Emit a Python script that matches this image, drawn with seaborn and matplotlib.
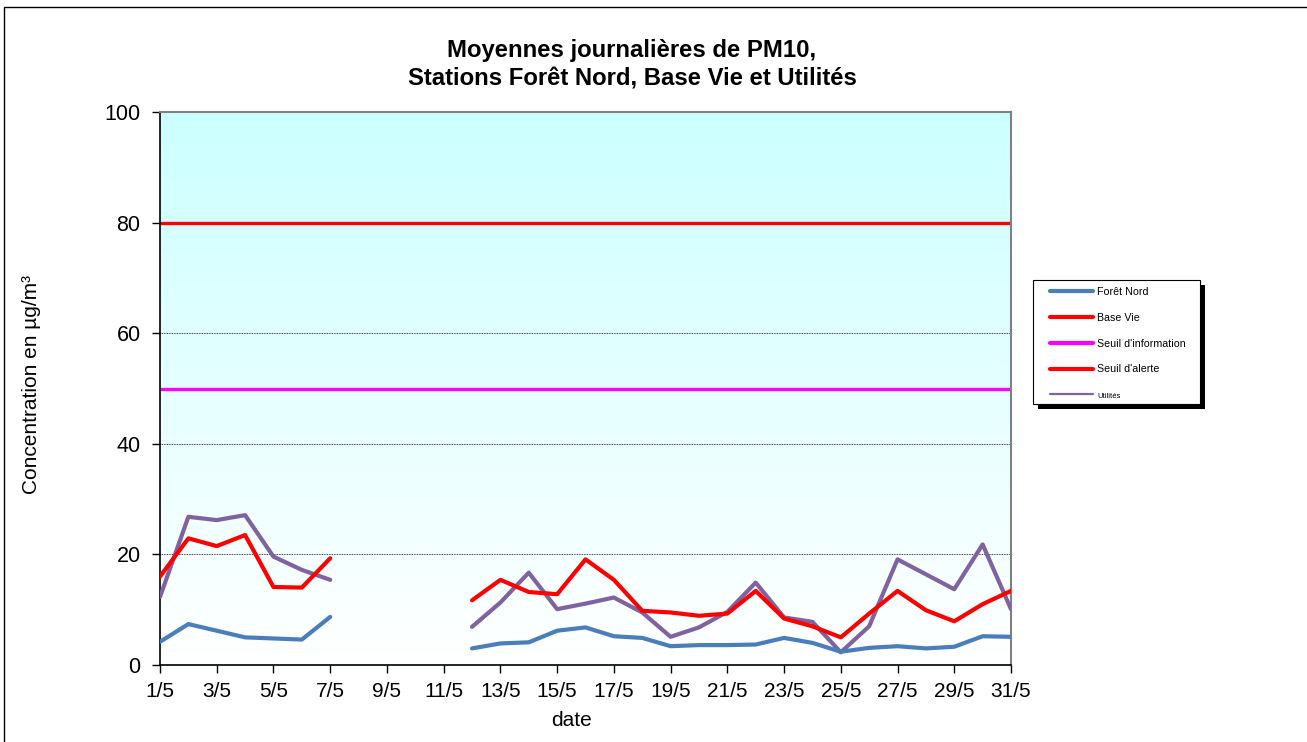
import numpy as np
import pandas as pd
import matplotlib
matplotlib.use("Agg")
import matplotlib.pyplot as plt
from matplotlib.colors import LinearSegmentedColormap
from matplotlib.lines import Line2D
from matplotlib.patches import Rectangle
import seaborn as sns

# days of May; no measurements from 8/5 to 11/5
days = list(range(1, 32))
nan = np.nan
foret_nord = [4.2, 7.4, 6.2, 5.0, 4.8, 4.6, 8.7, nan, nan, nan, nan,
              3.0, 3.9, 4.1, 6.2, 6.8, 5.2, 4.9, 3.4, 3.6, 3.6,
              3.7, 4.9, 4.0, 2.4, 3.1, 3.4, 3.0, 3.3, 5.2, 5.1]
base_vie = [16.0, 22.9, 21.5, 23.5, 14.1, 14.0, 19.3, nan, nan, nan, nan,
            11.7, 15.4, 13.2, 12.8, 19.1, 15.4, 9.8, 9.5, 8.9, 9.3,
            13.4, 8.4, 7.0, 5.0, 9.3, 13.4, 9.9, 7.9, 11.0, 13.4]
utilites = [12.3, 26.8, 26.2, 27.1, 19.6, 17.2, 15.4, nan, nan, nan, nan,
            6.9, 11.3, 16.7, 10.1, 11.1, 12.2, 9.5, 5.1, 6.8, 9.6,
            14.9, 8.6, 7.8, 2.3, 7.0, 19.1, 16.4, 13.7, 21.8, 10.1]
seuil_information = 50
seuil_alerte = 80
tick_days = list(range(1, 32, 2))
tick_labels = [f"{d}/5" for d in tick_days]

colors = {"Forêt Nord": "#4A7EBB", "Base Vie": "#FF0000", "Utilités": "#7F62A1"}

rows = []
for name, vals in [("Forêt Nord", foret_nord), ("Base Vie", base_vie), ("Utilités", utilites)]:
    seg = 0
    for d, v in zip(days, vals):
        if np.isnan(v):
            seg = 1
            continue
        rows.append({"day": d, "value": v, "station": name, "segment": seg})
df = pd.DataFrame(rows)

sns.set_style("white")
plt.rcParams["font.family"] = ["Liberation Sans", "DejaVu Sans"]
for key in ["text.color", "axes.labelcolor", "xtick.color", "ytick.color"]:
    plt.rcParams[key] = "black"

W, H = 1307, 742
fig = plt.figure(figsize=(W / 100, H / 100), dpi=100)
ax = fig.add_axes([160 / W, 1 - 665 / H, (1011 - 160) / W, (665 - 112) / H])

# gradient background (white at bottom, light cyan at top)
cmap = LinearSegmentedColormap.from_list("bg", ["#FFFFFF", "#CCFFFF"])
grad = np.linspace(0, 1, 256).reshape(-1, 1)
ax.imshow(grad, cmap=cmap, aspect="auto", extent=[1, 31, 0, 100], origin="lower", zorder=0)

for y in [20, 40, 60]:
    ax.axhline(y, color="black", lw=0.6, ls=(0, (1, 1)), zorder=1)

ax.axhline(seuil_information, color="#FF00FF", lw=2.4, zorder=2)
ax.axhline(seuil_alerte, color="#FF0000", lw=2.4, zorder=2)

for name in ["Utilités", "Base Vie", "Forêt Nord"]:
    sub = df[df["station"] == name]
    sns.lineplot(data=sub, x="day", y="value", units="segment", estimator=None,
                 color=colors[name], lw=3.0, ax=ax, legend=False, zorder=3)

ax.set_xlim(1, 31)
ax.set_ylim(0, 100)
ax.set_xticks(tick_days)
ax.set_xticklabels(tick_labels, fontsize=15)
ax.set_yticks([0, 20, 40, 60, 80, 100])
ax.set_yticklabels(["0", "20", "40", "60", "80", "100"], fontsize=15.5)
ax.tick_params(axis="both", direction="out", length=6, width=1, color="black",
               bottom=True, left=True)
ax.tick_params(axis="y", pad=8)
ax.tick_params(axis="x", pad=6)
ax.set_xlabel("")
ax.set_ylabel("")
for side in ["left", "bottom"]:
    ax.spines[side].set_color("black")
    ax.spines[side].set_linewidth(1.2)
for side in ["top", "right"]:
    ax.spines[side].set_color("#808080")
    ax.spines[side].set_linewidth(1.5)

fig.text(572 / W, 1 - 720 / H, "date", ha="center", va="center", fontsize=15)
fig.text(32 / W, 1 - 384 / H, "Concentration en µg/m³", rotation=90,
         ha="center", va="center", fontsize=15)
fig.text(632 / W, 1 - 65 / H, "Moyennes journalières de PM10,\nStations Forêt Nord, Base Vie et Utilités",
         ha="center", va="center", fontsize=17.2, fontweight="bold", linespacing=1.3)

# legend box with black shadow
fig.patches.append(Rectangle((1038 / W, 1 - 409 / H), 167 / W, 124 / H,
                             transform=fig.transFigure, facecolor="black",
                             edgecolor="none", zorder=4))
fig.patches.append(Rectangle((1033 / W, 1 - 404 / H), 167 / W, 124 / H,
                             transform=fig.transFigure, facecolor="white",
                             edgecolor="black", lw=0.8, zorder=5))

handles = [
    Line2D([], [], color=colors["Forêt Nord"], lw=3.0),
    Line2D([], [], color="#FF0000", lw=3.0),
    Line2D([], [], color="#FF00FF", lw=3.0),
    Line2D([], [], color="#FF0000", lw=3.0),
    Line2D([], [], color=colors["Utilités"], lw=1.6),
]
labels = ["Forêt Nord", "Base Vie", "Seuil d'information", "Seuil d'alerte", "Utilités"]
leg = fig.legend(handles, labels, loc="upper left",
                 bbox_to_anchor=(1050 / W, 1 - 287 / H),
                 fontsize=7.7, frameon=False,
                 labelspacing=1.48, handlelength=4.0, handletextpad=0.4,
                 borderpad=0, borderaxespad=0)
leg.set_zorder(6)
leg.get_texts()[4].set_fontsize(5.5)

fig.patches.append(Rectangle((4 / W, -0.01), 1.1, 1 - 7 / H + 0.01,
                             transform=fig.transFigure, fill=False,
                             edgecolor="black", lw=1, zorder=0))

fig.savefig("out.png", dpi=100)
